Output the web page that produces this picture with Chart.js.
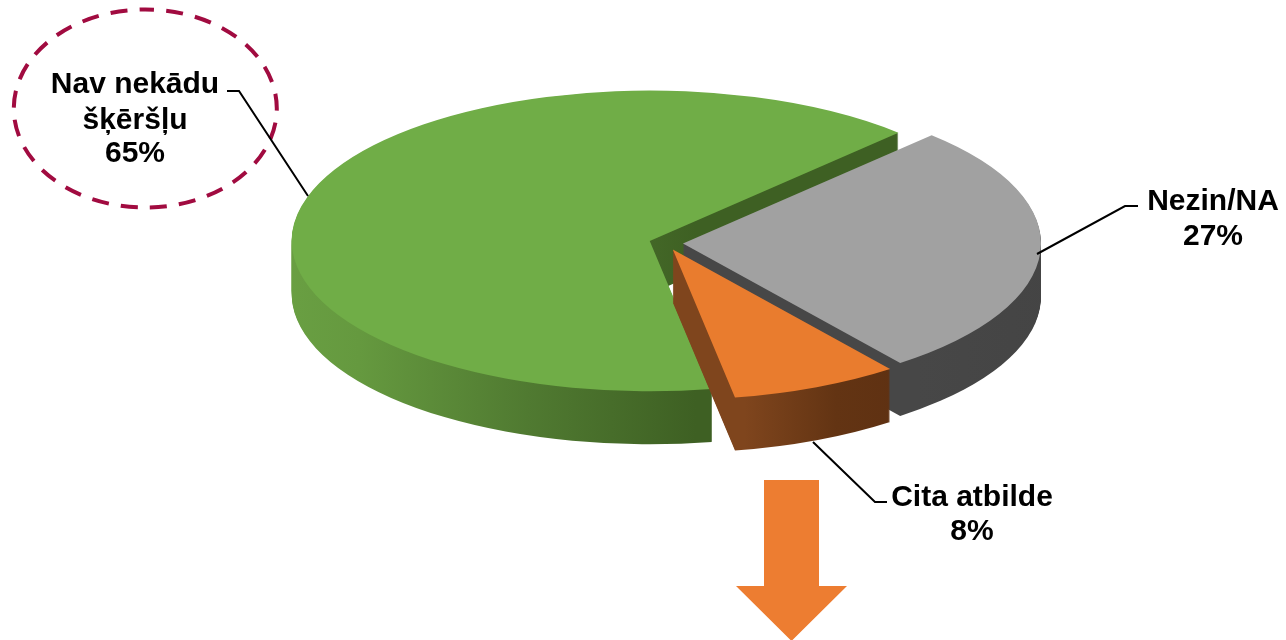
<!DOCTYPE html>
<html><head><meta charset="utf-8">
<style>html,body{margin:0;padding:0;background:#fff}canvas{display:block}</style>
<script src="https://cdn.jsdelivr.net/npm/chart.js@4"></script>
</head><body><canvas id="c" width="1286" height="640"></canvas>
<script>
const categories = ['Nav nekādu šķēršļu', 'Nezin/NA', 'Cita atbilde'];
const shares = [65, 27.4, 7.6];
const labelLines = [['Nav nekādu', 'šķēršļu', '65%'], ['Nezin/NA', '27%'], ['Cita atbilde', '8%']];

const topColors = ['#70AD47', '#A1A1A1', '#E97C2E'];
const wallStops = [
  [[0, '#6AA043'], [0.2, '#65993F'], [0.6, '#507A31'], [1, '#3E6023']],
  [[0, '#474747'], [1, '#444444']],
  [[0, '#7F451D'], [0.6, '#633413'], [1, '#5F3112']]
];
const SQUASH = 0.42, DEPTH = 53, EXPLODE = 17;

const labelLayout = [
  {x: 135, ys: [93, 129, 162], line: [[227,91],[239,91],[308,196]]},
  {x: 1213, ys: [210, 245], line: [[1138,206],[1125,206],[1037,254]]},
  {x: 972, ys: [506, 540], line: [[887,502],[875,502],[813,442]]}
];

const pie3d = {
  id: 'pie3d',
  beforeDatasetDraw(chart) {
    const ctx = chart.ctx;
    const arcs = chart.getDatasetMeta(0).data;
    arcs.forEach((arc, i) => {
      const mid = (arc.startAngle + arc.endAngle) / 2;
      const dx = Math.cos(mid) * EXPLODE, dy = Math.sin(mid) * EXPLODE;
      const r = arc.outerRadius;
      // horizontal span of the visible (front) rim on screen for the wall gradient
      let x0 = Infinity, x1 = -Infinity;
      for (let a = arc.startAngle; a <= arc.endAngle; a += 0.01) {
        if (Math.sin(a) < 0) continue;
        const px = arc.x + dx + Math.cos(a) * r;
        if (px < x0) x0 = px;
        if (px > x1) x1 = px;
      }
      const grad = ctx.createLinearGradient(x0, 0, x1, 0);
      wallStops[i].forEach(s => grad.addColorStop(s[0], s[1]));
      const place = (k) => {
        ctx.translate(0, arc.y + k);
        ctx.scale(1, SQUASH);
        ctx.translate(dx, dy - arc.y);
      };
      for (let k = DEPTH; k >= 1; k--) {
        ctx.save();
        place(k);
        ctx.beginPath();
        ctx.moveTo(arc.x, arc.y);
        ctx.arc(arc.x, arc.y, r, arc.startAngle, arc.endAngle);
        ctx.closePath();
        ctx.fillStyle = grad;
        ctx.fill();
        ctx.restore();
      }
      ctx.save();
      place(0);
      arc.draw(ctx);
      ctx.restore();
    });
    return false;
  },
  afterDraw(chart) {
    const ctx = chart.ctx;
    // dashed ring around the first label
    ctx.save();
    ctx.strokeStyle = '#A10B40';
    ctx.lineWidth = 4;
    ctx.setLineDash([17, 12.18]);
    ctx.lineDashOffset = -21;
    ctx.beginPath();
    ctx.ellipse(145.3, 108.5, 131.5, 99, 0, -Math.PI / 2, Math.PI * 1.5);
    ctx.stroke();
    ctx.restore();
    // arrow
    ctx.save();
    ctx.fillStyle = '#ED7D31';
    ctx.beginPath();
    [[764,480],[819,480],[819,586],[847,586],[791.5,641],[736,586],[764,586]].forEach((p, i) => i ? ctx.lineTo(p[0], p[1]) : ctx.moveTo(p[0], p[1]));
    ctx.closePath();
    ctx.fill();
    ctx.restore();
    // leaders and labels
    ctx.save();
    labelLayout.forEach((l, i) => {
      ctx.strokeStyle = '#000';
      ctx.lineWidth = 2;
      ctx.beginPath();
      l.line.forEach((p, j) => j ? ctx.lineTo(p[0], p[1]) : ctx.moveTo(p[0], p[1]));
      ctx.stroke();
      ctx.fillStyle = '#000';
      ctx.font = 'bold 30px "Liberation Sans", Arial, sans-serif';
      ctx.textAlign = 'center';
      ctx.textBaseline = 'alphabetic';
      labelLines[i].forEach((t, j) => ctx.fillText(t, l.x, l.ys[j]));
    });
    ctx.restore();
  }
};

new Chart(document.getElementById('c'), {
  type: 'pie',
  data: {
    labels: categories,
    datasets: [{data: shares, backgroundColor: topColors, borderWidth: 0, offset: 0, hoverOffset: 0}]
  },
  options: {
    responsive: false,
    animation: false,
    rotation: 170,
    radius: 358,
    layout: {padding: {left: 46, bottom: 154}},
    plugins: {legend: {display: false}, tooltip: {enabled: false}},
    events: []
  },
  plugins: [pie3d]
});
</script></body></html>
